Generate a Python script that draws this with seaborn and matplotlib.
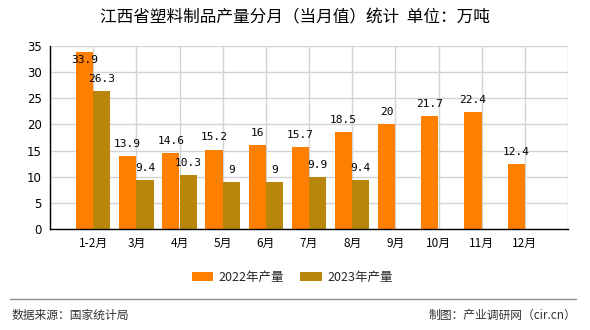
import matplotlib
matplotlib.use("Agg")
import matplotlib.pyplot as plt
from matplotlib.patches import Patch
from matplotlib.lines import Line2D
import pandas as pd
import seaborn as sns

# Monthly output of plastic products in Jiangxi (10k tonnes)
months = ["1-2月", "3月", "4月", "5月", "6月", "7月", "8月", "9月", "10月", "11月", "12月"]
series_names = ["2022年产量", "2023年产量"]
values_2022 = [33.9, 13.9, 14.6, 15.2, 16, 15.7, 18.5, 20, 21.7, 22.4, 12.4]
values_2023 = [26.3, 9.4, 10.3, 9, 9, 9.9, 9.4]
colors = ["#FF8000", "#B8860B"]
y_ticks = [0, 5, 10, 15, 20, 25, 30, 35]

rows = []
for name, vals in zip(series_names, [values_2022, values_2023]):
    for m, v in zip(months, vals):
        rows.append({"month": m, "series": name, "value": v})
df = pd.DataFrame(rows)

sns.set_style("white")
plt.rcParams["font.family"] = ["Noto Sans CJK SC", "DejaVu Sans"]

fig = plt.figure(figsize=(5.9, 3.3), dpi=100)
ax = fig.add_axes([50 / 590, 1 - 229 / 330, 518 / 590, 183 / 330])

sns.barplot(data=df, x="month", y="value", hue="series", order=months,
            hue_order=series_names, palette=colors, saturation=1,
            width=0.8, dodge=True, errorbar=None, legend=False, ax=ax,
            linewidth=0, edgecolor="none", zorder=3)

ax.set_xlim(-1, 11)
ax.set_ylim(0, 35)
ax.set_xlabel("")
ax.set_ylabel("")

# category gridlines plus the two outer edges
ax.set_xticks(range(-1, 12))
ax.set_xticklabels([""] + months + [""], fontsize=8.5)
ax.set_yticks(y_ticks)
ax.set_yticklabels([str(t) for t in y_ticks], fontsize=8.5, family="DejaVu Sans")
ax.grid(True, color="#d3d3d3", linewidth=1, zorder=0)
ax.set_axisbelow(True)
ax.tick_params(axis="both", direction="out", length=4, width=1, color="black",
               pad=2, labelcolor="black")
ax.xaxis.get_major_ticks()[1].tick1line.set_visible(False)

for side in ["top", "right"]:
    ax.spines[side].set_visible(False)
for side in ["left", "bottom"]:
    ax.spines[side].set_color("black")
    ax.spines[side].set_linewidth(1)
    ax.spines[side].set_zorder(4)

# value labels above bars, kept inside the plot area
for container, vals in zip(ax.containers, [values_2022, values_2023]):
    for bar, v in zip(container.patches, vals):
        cx = bar.get_x() + bar.get_width() / 2
        ty = min(v + 2.3, 32.3)
        ax.text(cx, ty, f"{v:g}", ha="center", va="center", fontsize=8,
                family="DejaVu Sans Mono", color="black", zorder=5)

fig.text(0.5, 1 - 18 / 330, "江西省塑料制品产量分月（当月值）统计  单位：万吨",
         ha="center", va="center", fontsize=12, color="black")

handles = [Patch(facecolor=c, edgecolor="none") for c in colors]
fig.legend(handles, series_names, loc="center", ncol=2,
           bbox_to_anchor=(292 / 590, 1 - 277 / 330), frameon=False,
           fontsize=9, handlelength=1.75, handleheight=0.75,
           handletextpad=0.4, columnspacing=1.3)

fig.add_artist(Line2D([10 / 590, 576 / 590], [1 - 299 / 330] * 2,
                      color="#8c8c8c", linewidth=1))
fig.text(12 / 590, 1 - 315 / 330, "数据来源：国家统计局", ha="left", va="center",
         fontsize=8.5, color="#333333")
fig.text(576 / 590, 1 - 315 / 330, "制图：产业调研网（cir.cn）", ha="right", va="center",
         fontsize=8.5, color="#333333")

fig.savefig("out.png", dpi=100)
